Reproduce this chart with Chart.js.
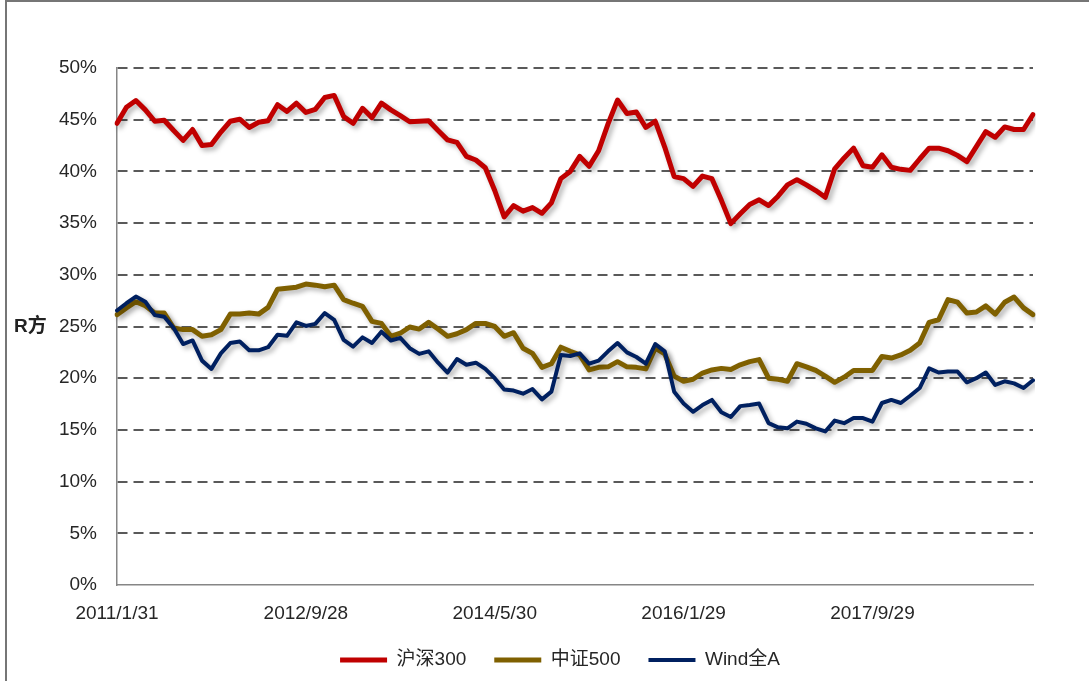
<!DOCTYPE html>
<html>
<head>
<meta charset="utf-8">
<script src="https://cdn.jsdelivr.net/npm/chart.js@4.4.0/dist/chart.umd.min.js"></script>
<style>
  html, body { margin: 0; padding: 0; background: #fff; overflow: hidden; }
  canvas { display: block; }
</style>
</head>
<body>
<canvas id="rchart" width="1089" height="681"></canvas>
<script>
// month-end dates, 2011/1 .. 2019/2
const dates = [
  '2011/1/31', '2011/2/28', '2011/3/31', '2011/4/29', '2011/5/31', '2011/6/30', '2011/7/29', '2011/8/31', '2011/9/30', '2011/10/31', '2011/11/30', '2011/12/30',
  '2012/1/31', '2012/2/29', '2012/3/30', '2012/4/27', '2012/5/31', '2012/6/29', '2012/7/31', '2012/8/31', '2012/9/28', '2012/10/31', '2012/11/30', '2012/12/31',
  '2013/1/31', '2013/2/28', '2013/3/29', '2013/4/26', '2013/5/31', '2013/6/28', '2013/7/31', '2013/8/30', '2013/9/30', '2013/10/31', '2013/11/29', '2013/12/31',
  '2014/1/30', '2014/2/28', '2014/3/31', '2014/4/30', '2014/5/30', '2014/6/30', '2014/7/31', '2014/8/29', '2014/9/30', '2014/10/31', '2014/11/28', '2014/12/31',
  '2015/1/30', '2015/2/27', '2015/3/31', '2015/4/30', '2015/5/29', '2015/6/30', '2015/7/31', '2015/8/31', '2015/9/30', '2015/10/30', '2015/11/30', '2015/12/31',
  '2016/1/29', '2016/2/29', '2016/3/31', '2016/4/29', '2016/5/31', '2016/6/30', '2016/7/29', '2016/8/31', '2016/9/30', '2016/10/31', '2016/11/30', '2016/12/30',
  '2017/1/26', '2017/2/28', '2017/3/31', '2017/4/28', '2017/5/31', '2017/6/30', '2017/7/31', '2017/8/31', '2017/9/29', '2017/10/31', '2017/11/30', '2017/12/29',
  '2018/1/31', '2018/2/28', '2018/3/30', '2018/4/27', '2018/5/31', '2018/6/29', '2018/7/31', '2018/8/31', '2018/9/28', '2018/10/31', '2018/11/30', '2018/12/28',
  '2019/1/31', '2019/2/28'
];
const tickLabels = ['2011/1/31', '2012/9/28', '2014/5/30', '2016/1/29', '2017/9/29'];

// R方 (%)
const hs300 = [
  44.65, 46.2, 46.85, 45.95, 44.85, 44.95, 43.95, 43.0, 44.05, 42.5,
  42.6, 43.8, 44.85, 45.05, 44.25, 44.75, 44.9, 46.45, 45.8, 46.6,
  45.7, 46.0, 47.15, 47.35, 45.3, 44.65, 46.1, 45.2, 46.6, 45.95,
  45.4, 44.8, 44.85, 44.9, 43.95, 43.05, 42.8, 41.45, 41.1, 40.35,
  38.15, 35.6, 36.7, 36.15, 36.5, 35.95, 36.95, 39.3, 40.0, 41.45,
  40.5, 42.0, 44.6, 46.9, 45.6, 45.75, 44.25, 44.85, 42.35, 39.5,
  39.3, 38.55, 39.55, 39.3, 37.2, 34.95, 35.9, 36.8, 37.25, 36.7,
  37.6, 38.7, 39.2, 38.7, 38.15, 37.5, 40.25, 41.3, 42.25, 40.55,
  40.4, 41.6, 40.4, 40.2, 40.1, 41.2, 42.25, 42.25, 42.0, 41.55,
  40.95, 42.4, 43.85, 43.3, 44.3, 44.05, 44.05, 45.5
];
const zz500 = [
  26.15, 26.8, 27.4, 27.0, 26.3, 26.3, 24.85, 24.7, 24.7, 24.05,
  24.2, 24.7, 26.2, 26.2, 26.3, 26.2, 26.85, 28.6, 28.7, 28.8,
  29.1, 29.0, 28.85, 29.0, 27.6, 27.25, 26.95, 25.5, 25.3, 24.05,
  24.35, 24.95, 24.75, 25.4, 24.75, 24.05, 24.3, 24.7, 25.3, 25.3,
  25.0, 24.05, 24.4, 22.9, 22.4, 21.05, 21.4, 23.0, 22.6, 22.25,
  20.8, 21.05, 21.1, 21.6, 21.1, 21.05, 20.9, 22.9, 22.35, 20.2,
  19.7, 19.9, 20.5, 20.8, 20.95, 20.85, 21.3, 21.6, 21.8, 20.0,
  19.9, 19.7, 21.4, 21.1, 20.75, 20.2, 19.6, 20.1, 20.75, 20.75,
  20.75, 22.1, 21.95, 22.25, 22.7, 23.4, 25.4, 25.65, 27.6, 27.35,
  26.3, 26.4, 27.0, 26.2, 27.35, 27.85, 26.8, 26.15
];
const windA = [
  26.55, 27.25, 27.9, 27.4, 26.1, 25.95, 24.85, 23.3, 23.65, 21.7,
  20.9, 22.4, 23.4, 23.55, 22.7, 22.7, 23.0, 24.2, 24.1, 25.4,
  25.05, 25.25, 26.3, 25.65, 23.7, 23.05, 23.95, 23.4, 24.5, 23.65,
  23.9, 22.9, 22.35, 22.6, 21.5, 20.55, 21.85, 21.3, 21.5, 20.9,
  20.0, 18.9, 18.8, 18.5, 18.95, 17.95, 18.7, 22.25, 22.15, 22.4,
  21.4, 21.7, 22.6, 23.4, 22.5, 22.05, 21.4, 23.3, 22.6, 18.7,
  17.55, 16.75, 17.4, 17.9, 16.7, 16.25, 17.3, 17.4, 17.55, 15.65,
  15.25, 15.15, 15.8, 15.6, 15.15, 14.85, 15.9, 15.65, 16.15, 16.15,
  15.8, 17.6, 17.9, 17.6, 18.3, 19.05, 20.95, 20.55, 20.65, 20.65,
  19.6, 20.0, 20.55, 19.35, 19.7, 19.5, 19.05, 19.8
];

const fontFamily = "'Liberation Sans', 'Noto Sans CJK SC', sans-serif";

// soft drop shadow under the lines, like the Excel original
const lineShadow = {
  id: 'lineShadow',
  beforeDatasetDraw(chart) {
    const ctx = chart.ctx;
    ctx.save();
    ctx.shadowColor = 'rgba(0, 0, 0, 0.3)';
    ctx.shadowBlur = 5;
    ctx.shadowOffsetX = 3;
    ctx.shadowOffsetY = 3;
  },
  afterDatasetDraw(chart) {
    chart.ctx.restore();
  }
};

// white background, outer frame and the horizontal "R方" axis title
const frameAndTitle = {
  id: 'frameAndTitle',
  afterLayout(chart) {
    // legend sits a little left of the plot centre in the original
    chart.legend.left -= 15;
    chart.legend.right -= 15;
  },
  beforeDraw(chart) {
    const ctx = chart.ctx;
    ctx.save();
    ctx.fillStyle = '#fff';
    ctx.fillRect(0, 0, chart.width, chart.height);
    ctx.strokeStyle = '#767676';
    ctx.lineWidth = 2;
    ctx.strokeRect(6, 1, chart.width + 20, chart.height + 20);
    ctx.restore();
  },
  afterDraw(chart) {
    const ctx = chart.ctx;
    ctx.save();
    ctx.font = 'bold 19px ' + fontFamily;
    ctx.fillStyle = '#222';
    ctx.textBaseline = 'middle';
    ctx.fillText('R方', 14, chart.scales.y.getPixelForValue(25));
    ctx.restore();
  }
};

function makeLine(label, data, color, width, order) {
  return {
    label: label,
    data: data,
    borderColor: color,
    backgroundColor: color,
    borderWidth: width,
    pointRadius: 0,
    tension: 0,
    fill: false,
    borderJoinStyle: 'round',
    borderCapStyle: 'round',
    order: order
  };
}

const ctx = document.getElementById('rchart').getContext('2d');
const rChart = new Chart(ctx, {
  type: 'line',
  data: {
    labels: dates,
    datasets: [
      makeLine('沪深300', hs300, '#C00000', 5, 2),
      makeLine('中证500', zz500, '#7F6000', 5, 1),
      makeLine('Wind全A', windA, '#002060', 4, 0)
    ]
  },
  options: {
    responsive: false,
    animation: false,
    events: [],
    layout: {
      padding: { top: 68, right: 56, bottom: 1.5, left: 0 }
    },
    plugins: {
      tooltip: { enabled: false },
      legend: {
        position: 'bottom',
        fullSize: false,
        labels: {
          usePointStyle: true,
          pointStyle: 'line',
          pointStyleWidth: 47,
          padding: 28,
          color: '#262626',
          font: { size: 19, family: fontFamily },
          sort: (a, b) => a.datasetIndex - b.datasetIndex
        }
      }
    },
    scales: {
      x: {
        type: 'category',
        offset: false,
        grid: { display: false, drawTicks: false },
        border: { display: true, color: '#868686', width: 1.5 },
        ticks: {
          autoSkip: false,
          maxRotation: 0,
          minRotation: 0,
          padding: 17,
          color: '#262626',
          font: { size: 19, family: fontFamily },
          callback: function (value) {
            const lab = this.getLabelForValue(value);
            return tickLabels.includes(lab) ? lab : '';
          }
        },
        afterFit: function (scale) { scale.height = 37.5; }
      },
      y: {
        min: 0,
        max: 50,
        grid: {
          color: c => c.tick.value === 0 ? 'rgba(0,0,0,0)' : '#595959',
          lineWidth: 2,
          drawTicks: false
        },
        border: { display: true, color: '#868686', width: 1.5, dash: [10, 6] },
        ticks: {
          stepSize: 5,
          padding: 20,
          color: '#262626',
          font: { size: 19, family: fontFamily },
          callback: v => v + '%'
        },
        afterFit: function (scale) { scale.width = 117; }
      }
    }
  },
  plugins: [lineShadow, frameAndTitle]
});
</script>
</body>
</html>
